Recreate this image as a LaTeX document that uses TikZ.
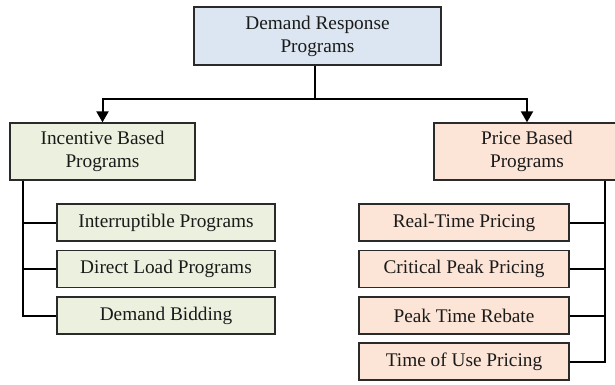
\documentclass[tikz,border=0pt]{standalone}
\usepackage{fontspec}
\setmainfont{Liberation Serif}
\newfontfamily\tnr{Liberation Serif}
\usetikzlibrary{arrows.meta}
\definecolor{topfill}{HTML}{DCE6F2}
\definecolor{greenfill}{HTML}{EBF1DE}
\definecolor{peachfill}{HTML}{FCE4D6}
\definecolor{boxline}{HTML}{2A2A2A}
\definecolor{txt}{HTML}{1A1A1A}
\tikzset{
  box/.style={draw=boxline, line width=1.3pt, rectangle, inner sep=0pt,
    align=center, text=txt, font=\tnr\fontsize{19.3}{23}\selectfont},
  topbox/.style={box, fill=topfill, minimum width=247pt, minimum height=58pt},
  mainbox/.style={box, minimum width=186pt, minimum height=57pt},
  childbox/.style={box, minimum height=37pt},
  link/.style={line width=2pt, black},
  arrowlink/.style={link, -{Triangle[width=12pt,length=11pt]}}
}
\begin{document}
\begin{tikzpicture}[x=1pt,y=-1pt]
\useasboundingbox (0,0) rectangle (615,384);
\clip (0,0) rectangle (615,384);
\node[topbox] (top) at (317.5,36) {Demand Response\\Programs};
\node[mainbox, fill=greenfill, minimum width=185pt] (inc) at (102.5,151.5) {Incentive Based\\Programs};
\node[mainbox, fill=peachfill] (pri) at (527,151.5) {Price Based\\Programs};

\node[childbox, fill=greenfill, minimum width=218pt] (i1) at (166,222.5) {Interruptible Programs};
\node[childbox, fill=greenfill, minimum width=218pt] (i2) at (166,269) {Direct Load Programs};
\node[childbox, fill=greenfill, minimum width=218pt] (i3) at (166,315.5) {Demand Bidding};

\node[childbox, fill=peachfill, minimum width=210pt] (p1) at (464,222.5) {Real-Time Pricing};
\node[childbox, fill=peachfill, minimum width=210pt] (p2) at (464,269) {Critical Peak Pricing};
\node[childbox, fill=peachfill, minimum width=210pt] (p3) at (464,315.5) {Peak Time Rebate};
\node[childbox, fill=peachfill, minimum width=210pt] (p4) at (464,361.5) {Time of Use Pricing};

\coordinate (split) at (315,98.5);
\coordinate (lbus) at (22.5,0);
\coordinate (rbus) at (605,0);

\draw[link] (top.south -| split) -- (split);
\draw[arrowlink] (split) -| (inc.north);
\draw[arrowlink] (split) -| (pri.north);

\draw[link] (inc.south -| lbus) |- (i3.west);
\draw[link] (i1.west -| lbus) -- (i1.west);
\draw[link] (i2.west -| lbus) -- (i2.west);

\draw[link] (pri.south -| rbus) |- (p4.east);
\draw[link] (p1.east) -- (p1.east -| rbus);
\draw[link] (p2.east) -- (p2.east -| rbus);
\draw[link] (p3.east) -- (p3.east -| rbus);
\end{tikzpicture}
\end{document}
